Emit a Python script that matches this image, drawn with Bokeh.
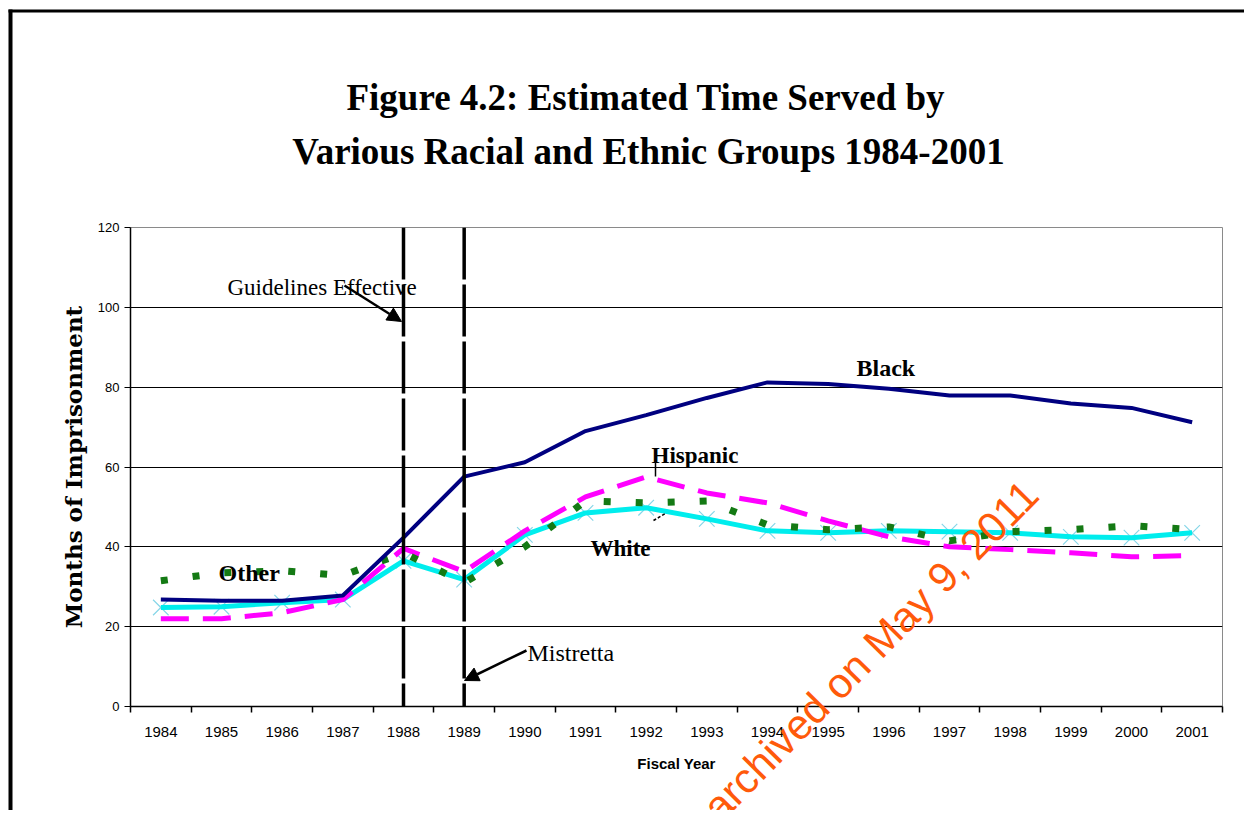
from bokeh.plotting import figure
from bokeh.models import Range1d, FixedTicker, Span, Label, Arrow, NormalHead
from bokeh.core.properties import value
from bokeh.embed import file_html
from bokeh.resources import INLINE

# ---- data ----
years = list(range(1984, 2002))
year_labels = [str(y) for y in years]
black = [26.8, 26.5, 26.5, 27.8, 42.3, 57.6, 61.2, 69.0, 73.0, 77.3, 81.2, 80.8, 79.6, 77.9, 77.9, 75.9, 74.8, 71.2]
hispanic = [22.0, 22.0, 23.5, 26.8, 39.6, 33.8, 44.0, 52.5, 57.5, 53.5, 51.0, 46.5, 42.5, 40.0, 39.3, 38.5, 37.5, 37.8]
white = [24.8, 25.0, 26.0, 26.8, 36.5, 31.8, 43.0, 48.5, 49.8, 47.0, 44.0, 43.5, 44.0, 43.8, 43.5, 42.5, 42.3, 43.5]
other = [31.5, 33.5, 34.0, 32.8, 38.5, 31.0, 40.0, 51.5, 51.0, 51.5, 45.5, 44.3, 45.0, 41.5, 43.8, 44.3, 45.3, 44.3]
y_ticks = [0, 20, 40, 60, 80, 100, 120]
event_years = [1988, 1989]
title_lines = ["Figure 4.2:  Estimated Time Served by",
               "Various Racial and Ethnic Groups 1984-2001"]

# ---- layout geometry (page pixels) ----
W, H = 1244, 810
FL, FR, FT, FB = 130, 1222, 227, 706
X0, X1 = years[0] - 0.5, years[-1] + 0.5
Y0, Y1 = 0, 120


def dx(px):
    return X0 + (px - FL) * (X1 - X0) / (FR - FL)


def dy(py):
    return Y0 + (FB - py) * (Y1 - Y0) / (FB - FT)


p = figure(width=W, height=H, x_range=Range1d(X0, X1), y_range=Range1d(Y0, Y1),
           output_backend="svg", toolbar_location=None, title=None,
           min_border_left=FL, min_border_right=W - FR,
           min_border_top=FT, min_border_bottom=H - FB)
p.background_fill_color = "white"
p.border_fill_color = "white"
p.outline_line_color = "#8a8a8a"
p.outline_line_width = 1

# grid
p.xgrid.visible = False
p.ygrid.ticker = FixedTicker(ticks=y_ticks)
p.ygrid.grid_line_color = "black"
p.ygrid.grid_line_width = 1

# y axis
p.yaxis.ticker = FixedTicker(ticks=y_ticks)
p.yaxis.axis_line_color = "black"
p.yaxis.axis_line_width = 1.5
p.yaxis.major_tick_line_color = "black"
p.yaxis.major_tick_out = 6
p.yaxis.major_tick_in = 0
p.yaxis.minor_tick_line_color = None
p.yaxis.major_label_text_font = "Liberation Sans"
p.yaxis.major_label_text_font_size = "13px"
p.yaxis.major_label_text_color = "black"
p.yaxis.major_label_standoff = 5
p.yaxis.axis_label = "Months of Imprisonment"
p.yaxis.axis_label_text_font = "DejaVu Serif"
p.yaxis.axis_label_text_font_style = "bold"
p.yaxis.axis_label_text_font_size = "23px"
p.yaxis.axis_label_text_color = "black"
p.yaxis.axis_label_standoff = 8

# x axis
p.xaxis.ticker = FixedTicker(ticks=years, minor_ticks=[y - 0.5 for y in years] + [years[-1] + 0.5])
p.xaxis.major_label_overrides = {y: s for y, s in zip(years, year_labels)}
p.xaxis.axis_line_color = "black"
p.xaxis.axis_line_width = 1.5
p.xaxis.major_tick_out = 0
p.xaxis.major_tick_in = 0
p.xaxis.minor_tick_out = 6
p.xaxis.minor_tick_in = 0
p.xaxis.minor_tick_line_color = "black"
p.xaxis.minor_tick_line_width = 1.5
p.xaxis.major_label_text_font = "Liberation Sans"
p.xaxis.major_label_text_font_size = "15px"
p.xaxis.major_label_text_color = "black"
p.xaxis.major_label_standoff = 14
p.xaxis.axis_label = "Fiscal Year"
p.xaxis.axis_label_text_font = "Liberation Sans"
p.xaxis.axis_label_text_font_style = "bold"
p.xaxis.axis_label_text_font_size = "15px"
p.xaxis.axis_label_text_color = "black"
p.xaxis.axis_label_standoff = 15

# title (two centred lines, drawn on the overlay level above the frame)
p.text(x=[dx(650), dx(648)], y=[dy(97), dy(151)], text=title_lines,
       text_font=value("Liberation Serif"), text_font_style="bold",
       text_font_size="37px", text_color="black", text_align="center",
       text_baseline="alphabetic", level="overlay")

# series
p.scatter(years, white, marker="x", size=22, line_color="#86D6E8", line_width=1.2)
p.line(years, white, line_color="#00EDED", line_width=5)
p.line(years, hispanic, line_color="#FF00FF", line_width=5, line_dash="28 14")
p.line(years, other, line_color="#147A14", line_width=7, line_dash="7 25")
p.line(years, black, line_color="#000080", line_width=4)

# event lines
for ey in event_years:
    p.add_layout(Span(location=ey, dimension="height", line_color="black",
                      line_width=3.5, line_dash="52 5"))

# arrows
p.add_layout(Arrow(x_start=dx(344), y_start=dy(285), x_end=dx(401), y_end=dy(321),
                   line_color="black", line_width=2.5,
                   end=NormalHead(size=14, fill_color="black", line_color="black")))
p.add_layout(Arrow(x_start=dx(526), y_start=dy(650), x_end=dx(464), y_end=dy(680),
                   line_color="black", line_width=2.5,
                   end=NormalHead(size=14, fill_color="black", line_color="black")))
# leader lines
p.add_layout(Arrow(x_start=dx(655), y_start=dy(458), x_end=dx(655), y_end=dy(476),
                   line_color="black", line_width=1.5, end=None))
p.add_layout(Arrow(x_start=dx(653), y_start=dy(520), x_end=dx(665), y_end=dy(513),
                   line_color="black", line_width=1.5, line_dash="3 2", end=None))


def lab(text, px, py, size, style="normal", font="Liberation Serif"):
    p.add_layout(Label(x=dx(px), y=dy(py), text=text, text_font=font,
                       text_font_size=size, text_font_style=style, text_align="left",
                       text_baseline="alphabetic", text_color="black"))


# annotations
lab("Guidelines Effective", 227, 287, "23px")
lab("Mistretta", 527, 652, "24px")
lab("Black", 856, 367, "24px", "bold")
lab("Hispanic", 651, 455, "23px", "bold")
lab("White", 590, 548, "23px", "bold")
lab("Other", 218, 572, "24px", "bold")

# archive stamp (overlay level so it may extend past the frame)
p.text(x=[dx(710)], y=[dy(813)], text=["archived on May 9, 2011"],
       text_font=value("Liberation Sans"), text_font_size="42px", text_color="#FF5A0A",
       angle=0.794, text_align="left", text_baseline="alphabetic", level="overlay")

# outer page frame
p.quad(left=[dx(8), dx(8)], right=[dx(1250), dx(12)], top=[dy(9), dy(9)],
       bottom=[dy(12), dy(820)], fill_color="black", line_color=None, level="overlay")

open("out.html", "w").write(file_html(p, INLINE))
